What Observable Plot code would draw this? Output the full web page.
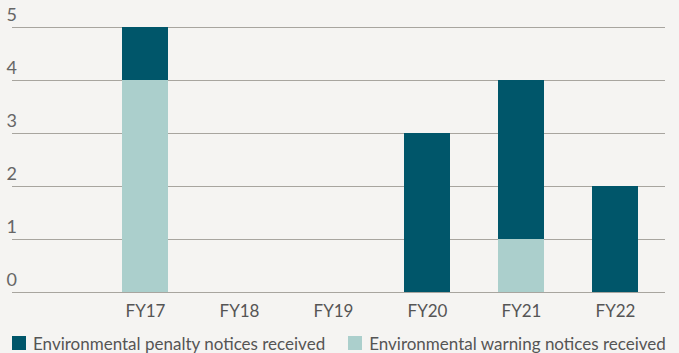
<!DOCTYPE html>
<html><head><meta charset="utf-8">
<script src="https://cdn.jsdelivr.net/npm/d3@7"></script>
<script src="https://cdn.jsdelivr.net/npm/@observablehq/plot@0.6"></script>
<style>
html,body{margin:0;padding:0;background:#f5f4f2;}
body{width:679px;height:353px;overflow:hidden;font-family:Lato,sans-serif;}
#legend{display:flex;align-items:center;font-size:17px;color:#555;height:24px;margin-top:6px;}
.item{display:flex;align-items:center;}
.sw{width:14px;height:14px;display:inline-block;margin-right:7px;}
</style></head><body>
<div id="chart"></div>
<div id="legend"></div>
<script>
const years = ["FY17","FY18","FY19","FY20","FY21","FY22"];
const penalty = [1,0,0,3,3,2];
const warning = [4,0,0,0,1,0];
const seriesNames = ["Environmental penalty notices received","Environmental warning notices received"];
const colors = ["#00566a","#abcfcc"];
const yTicks = [0,1,2,3,4,5];

const data = [];
years.forEach((y,i)=>{
  data.push({year:y, series:seriesNames[1], value:warning[i]});
  data.push({year:y, series:seriesNames[0], value:penalty[i]});
});

const chart = Plot.plot({
  width:679, height:325,
  marginLeft:97, marginRight:17, marginTop:27, marginBottom:33,
  style:{background:"transparent", fontFamily:"Lato, sans-serif"},
  x:{domain:years, paddingInner:0.512, paddingOuter:0.25, label:null},
  y:{domain:[0,5], label:null},
  color:{domain:seriesNames, range:colors},
  marks:[
    Plot.ruleY(yTicks,{stroke:"#a8a59f", strokeWidth:1.2, insetLeft:-85, insetRight:-3}),
    Plot.barY(data,{x:"year", y:"value", fill:"series", order:[seriesNames[1],seriesNames[0]]}),
    Plot.axisY(yTicks,{tickSize:0, tickFormat:"d", textAnchor:"start", dx:-82, dy:-12, fontSize:18, fill:"#666", label:null}),
    Plot.axisX({tickSize:0, tickPadding:12, fontSize:17, fill:"#555", label:null})
  ]
});
document.getElementById("chart").appendChild(chart);

const lg = document.getElementById("legend");
seriesNames.forEach((s,i)=>{
  const it = document.createElement("div");
  it.className="item";
  it.style.marginLeft = i===0 ? "12px" : "23px";
  it.innerHTML = `<span class="sw" style="background:${colors[i]}"></span><span>${s}</span>`;
  lg.appendChild(it);
});
</script>
</body></html>
